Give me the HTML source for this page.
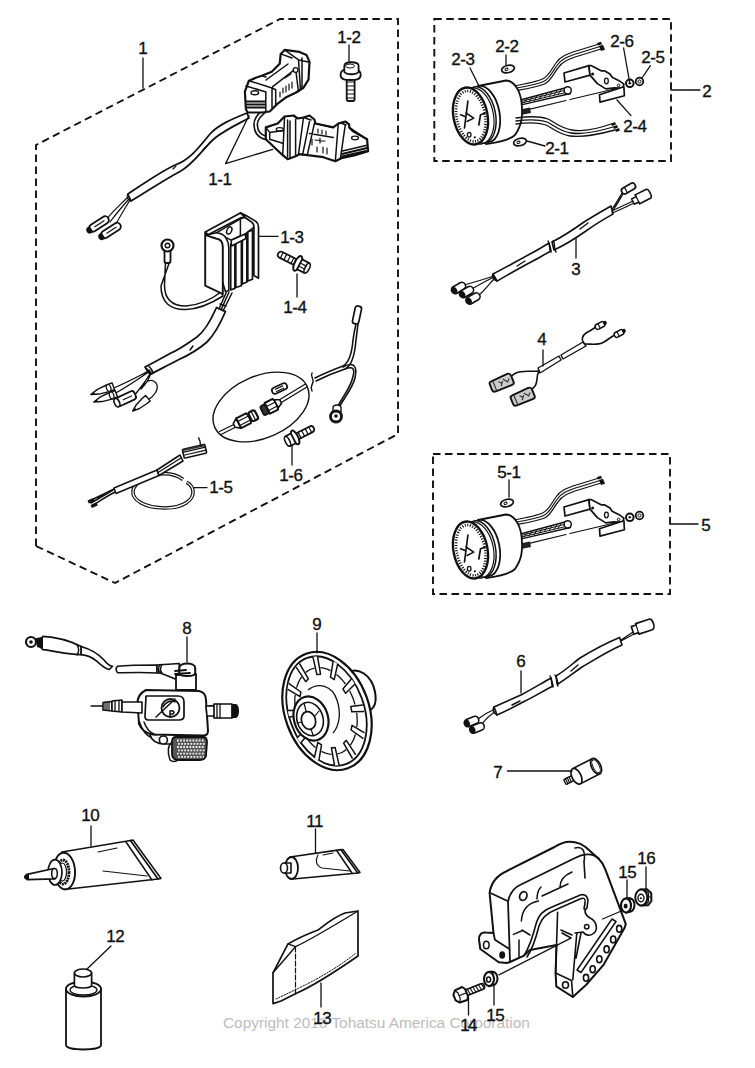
<!DOCTYPE html>
<html><head><meta charset="utf-8"><style>
html,body{margin:0;padding:0;background:#fff;}
svg{display:block;}
text{font-family:"Liberation Sans",sans-serif;}
.lb{font-size:17px;letter-spacing:-0.4px;fill:#111;stroke:#111;stroke-width:0.35px;}
.ln{stroke:#111;stroke-width:1.3;fill:none;stroke-linecap:round;stroke-linejoin:round;}
.d{stroke:#111;stroke-width:1.9;fill:none;stroke-dasharray:7.5 4.5;}
.o{stroke:#111;stroke-width:1.8;fill:#fff;stroke-linejoin:round;stroke-linecap:round;}
.t{stroke:#111;stroke-width:1.2;fill:none;stroke-linecap:round;stroke-linejoin:round;}
</style></head><body>
<svg width="755" height="1068" viewBox="0 0 755 1068">
<rect width="755" height="1068" fill="#fff"/>
<!-- dashed group boxes -->
<path class="d" d="M36,546 L36,145 L280,19 L398,19 L398,434 L115,583 Z"/>
<rect class="d" x="434.3" y="19" width="236.7" height="142"/>
<rect class="d" x="433" y="454" width="237" height="140"/>
<!-- labels -->
<text x="223" y="1028" style="font-size:15.4px;fill:#bdbdbd;">Copyright 2013 Tohatsu America Corporation</text>
<g id="coils">
<!-- cable from upper coil -->
<path class="o" d="M247,113 C232,119 218,125 210,134 C200,146 190,160 175,165 C160,172 140,186 127.7,194.2 L131,201 C145,193 162,181 180,171.5 C195,163 203,148 215,138 C225,130 238,124 249,118 Z"/>
<path class="t" d="M127.7,194.2 C126,197 128,200 131,201 M203,150 L207,146 M173,169 l3,-3"/>
<!-- wires to connectors -->
<path class="t" d="M128,197 C120,205 112,212 106,220 M130,200 C124,210 120,216 115,226 M129,199 C121,208 116,214 110,222"/>
<!-- connectors -->
<g transform="translate(99,224) rotate(-33)"><rect class="o" x="-11" y="-3.8" width="22" height="7.6" rx="3.8"/><path d="M-11,-3.5 a3.5,3.5 0 0 0 0,7 l2,0 l0,-7z" fill="#111"/><path class="t" d="M-5,0 H6"/></g>
<g transform="translate(111,230.5) rotate(-33)"><rect class="o" x="-11" y="-3.8" width="22" height="7.6" rx="3.8"/><path d="M-11,-3.5 a3.5,3.5 0 0 0 0,7 l2,0 l0,-7z" fill="#111"/><path class="t" d="M-5,0 H6"/></g>
<!-- wire loop from upper coil to lower coil -->
<path fill="none" stroke="#111" stroke-width="5" stroke-linecap="round" d="M263.8,111.5 C258,116 255,121 255.8,126 C256,132 259,136 266,138"/>
<path fill="none" stroke="#fff" stroke-width="1.8" d="M263.8,111.5 C258,116 255,121 255.8,126 C256,132 259,136 266,138"/>
<!-- upper coil -->
<g stroke="#111" fill="none" stroke-linejoin="round" stroke-linecap="round">
<path fill="#fff" stroke-width="2.2" d="M245.9,109.5 L244.9,91.7 L248.9,80.7 L255.8,77.8 L261.8,75.8 L271.7,71.8 L279.7,63.8 L280.7,53.9 L284.6,49.9 L299.5,51.9 L306.5,54.9 L309.5,61.9 L308.5,79.7 L303.5,87.7 L295.6,92.7 L285.6,97.6 L277.7,103.6 L272.7,108.5 L269.7,111.5 L261.8,112.5 L247.9,112.5 Z"/>
<path stroke-width="1.5" d="M248.9,80.7 L272,88 L275.7,89.7 M246,86 L266,92 M275.7,89.7 L275.7,105.6 M265.8,91.7 L265.8,111 M272,88 L272,108
M261.8,75.8 L266,77 M272.7,86.7 L295.6,68.8 M266,80 L288,64 M295.6,68.8 L298.5,91.7 M298.5,59.9 L308.5,61.9 M298.5,59.9 L300.5,89.7 M284.6,49.9 L298.5,59.9 M280.7,53.9 L292,58 M302,58 L302,88"/>
<path stroke-width="2" d="M246,101.6 H265 M246,104.6 H265 M246,107.6 H265"/>
<path stroke-width="1.2" d="M283,88 l0,5 M286,86 l0,6 M289,84 l0,6 M292,82 l0,6 M280,92 l0,5 M285,78 l6,-4"/>
<ellipse cx="254.8" cy="92.7" rx="3.8" ry="2" stroke-width="1.4"/>
<circle cx="295.6" cy="70" r="2.4" fill="#fff" stroke-width="1.3"/>
</g>
<!-- lower coil -->
<g stroke="#111" fill="none" stroke-linejoin="round" stroke-linecap="round">
<path fill="#fff" stroke-width="2.2" d="M265.8,127.4 L277.7,123.5 L284.6,116.5 L293.6,115.5 L297.6,118.5 L303.5,117.5 L309.5,115.5 L314.4,119.5 L315.4,123.5 L333.3,127.4 L338.3,123.5 L345.2,121.5 L349.2,124.4 L349.2,127.4 L353.2,131.4 L367.1,139.3 L368.1,151.3 L355.2,155.2 L341.3,158.2 L335.3,161.2 L323.4,157.2 L299.5,154.2 L295.6,156.2 L287.6,159.2 L282.7,155.2 L265.8,139.3 Z"/>
<path stroke-width="1.5" d="M265.8,127.4 L269.7,132.4 L283.6,130.4 M269.7,132.4 L269.7,139.3 L282.7,143.3
M284.6,116.5 L282.7,155.2 M287.6,120 L287.6,157 M290,121 L290,158 M295.6,119.5 L295.6,155.2
M303.5,117.5 L298.5,154.2 M309.5,121.5 L302.5,155.2 M314.4,123.5 L307.5,154.2 M305,118 L311,120
M315.4,123.5 L333.3,127.4 M309.5,133.4 L333.3,137.4 M338.3,123.5 L335.3,161.2 M345.2,125.4 L340.3,159.2 M341,123 L346,125
M349.2,127.4 L367.1,139.3 M341.3,151.3 L367.1,145.3"/>
<path stroke-width="1.8" d="M342,154 L367,148 M342,156.5 L366,151"/>
<path stroke-width="1.2" d="M318,129 l0,4 M322,130 l0,4 M326,131 l0,4 M312,139 l0,6 M315,140 l10,1 M320,138 l0,5 M323,147 l0,6 M327,148 l0,6 M317,147 l0,5"/>
<ellipse cx="279.7" cy="129.4" rx="3.5" ry="1.8" stroke-width="1.3"/>
<ellipse cx="355" cy="138" rx="3.5" ry="1.8" stroke-width="1.3"/>
</g>
<!-- bolt 1-2 -->
<rect class="o" x="346.7" y="77" width="7.9" height="24" rx="2"/>
<path class="t" d="M347,82 H354 M347,86 H354 M347,90 H354 M347,94 H354 M347,98 H354"/>
<path class="o" style="stroke-width:1.8" d="M340.6,75 C340.6,69 346,69 350.5,69 C355,69 360.7,69 360.7,75 C360.7,80 355,80 350.5,80 C346,80 340.6,80 340.6,75 Z"/>
<path class="o" style="stroke-width:1.8" d="M344.3,72 L344.3,66 C344.3,61 358.6,61 358.6,66 L358.6,72 C356,75 347,75 344.3,72 Z"/>
<ellipse cx="350" cy="66" rx="4.5" ry="2" fill="none" stroke="#111" stroke-width="1"/>
</g>
<g id="regulator">
<!-- ground wire -->
<path class="o" style="stroke-width:1.5" d="M165.5,262 L164.5,285 C164.5,300 172,306 186,306 C200,305 212,299 221,292 L223,296 C212,303 200,309 186,309.5 C170,310 161,302 161,286 L169.5,262 Z"/>
<rect class="o" x="164.5" y="249" width="6" height="14" rx="2"/>
<circle cx="167.5" cy="245.5" r="6" fill="#fff" stroke="#111" stroke-width="2.2"/>
<circle cx="167.5" cy="245.5" r="2.3" fill="#fff" stroke="#111" stroke-width="1.4"/>
<!-- main cable -->
<path class="o" d="M216.5,307.5 C211,320 205,331 197,337 C188,343 180,349 171,353 C162,358 153,363 145,367 L150,374.5 C159,370 168,365 178,360 C189,355 199,349 207,342 C215,334 221,322 225.5,311.5 Z"/>
<path class="t" style="stroke-width:1.5" d="M146,368.5 C149,370 150,372 151,374 M149,366.5 C151,368 152,370 153,372.5 M190,350 l3,-4"/>
<path class="t" style="stroke-width:1.5" d="M219,309 L226,293 M221,310 L229,292 M223,311 L232,293 M220,304 l6,2"/>
<!-- regulator body -->
<g stroke="#111" fill="#fff" stroke-linejoin="round" stroke-width="1.7">
<path d="M240.4,212.9 C248,216 252,219 256.2,221.7 C258,223 258.5,225 258.5,227 L258.5,278.2 L253.9,275.5 L253.9,227 C253.9,224 252,222 250,221 L245,217.5 Z"/>
<path d="M252.5,230 L252.5,279.2 L247.8,281 L247.8,232 Z"/>
<path d="M246.9,234 L246.9,282 L242.3,284 L242.3,236 Z"/>
<path d="M241.4,238 L241.4,285.7 L235.8,287.5 L235.8,240 Z"/>
<path d="M234.9,242 L234.9,288.4 L230.7,290 L230.7,244 Z"/>
<path d="M205.2,231.9 L240.4,212.9 L245,217.5 L241.4,217.5 L208,234.7 Z"/>
<path d="M216.3,232.8 L240.4,218.9 L240.4,235.6 L231.2,240.2 Z" stroke-width="1.5"/>
<path d="M231.2,240.2 L245,234 L246,238.5 L231.6,246 Z" stroke-width="1.5"/>
<path d="M208,234.7 L216.3,232.8 C220,233 224,235 226,238 C228,241 228.8,244 228.8,248 L228.8,290.3 L225.6,292 Z" stroke-width="1.6"/>
<path d="M205.2,232.8 L205.2,285.7 L222.8,294 L222.8,247 C222.8,242 220,239 216,238.5 L207,235.6 Z" stroke-width="1.9"/>
</g>
<path class="t" style="stroke-width:1.3" d="M240.4,218.9 L245,217.5 M253.9,227 L245,234"/>
<ellipse cx="229.3" cy="230.5" rx="2.3" ry="3.8" transform="rotate(25 229.3 230.5)" fill="none" stroke="#111" stroke-width="1.5"/>
<!-- connectors of harness -->
<path class="t" style="stroke-width:1.3" d="M150,370 C140,376 125,383 114,388 M150,371 C140,378 125,388 114,394 M151,372 C147,380 140,388 134,396 M151,372 C150,378 148,382 141,389 C146,380 152,378 156,383 C160,389 154,396 148,400"/>
<g transform="translate(103,390) rotate(-20)"><path class="o" style="stroke-width:1.4" d="M-13,0 L-5,-2.5 L5,-3.5 L11,-3.5 L11,3.5 L5,3.5 L-5,2.5 Z"/><path d="M-13,0 L-9,-1.5 L-9,1.5Z" fill="#111"/><ellipse cx="6" cy="0" rx="2.2" ry="3.6" fill="#fff" stroke="#111" stroke-width="1.2"/></g>
<g transform="translate(106,397.5) rotate(-20)"><path class="o" style="stroke-width:1.4" d="M-13,0 L-5,-2.5 L5,-3.5 L11,-3.5 L11,3.5 L5,3.5 L-5,2.5 Z"/><path d="M-13,0 L-9,-1.5 L-9,1.5Z" fill="#111"/><ellipse cx="6" cy="0" rx="2.2" ry="3.6" fill="#fff" stroke="#111" stroke-width="1.2"/></g>
<g transform="translate(126,398.5) rotate(-25)"><rect class="o" x="-10" y="-4.5" width="20" height="9" rx="3"/><ellipse cx="-10" cy="0" rx="2.5" ry="4.5" fill="#fff" stroke="#111" stroke-width="1.6"/><path class="t" d="M-3,0 H6"/></g>
<g transform="translate(141,404) rotate(-40)"><path class="o" style="stroke-width:1.4" d="M-11,0 L-4,-2.5 L5,-3.5 L9,-3.5 L9,3.5 L5,3.5 L-4,2.5 Z"/><path d="M-11,0 L-7,-1.5 L-7,1.5Z" fill="#111"/></g>
</g>
<g id="bolt14">
<!-- bolt 1-4 -->
<g transform="translate(296,262.5) rotate(27)">
<rect class="o" x="-20" y="-3.2" width="20" height="6.4" rx="3"/>
<path class="t" d="M-16,-3 v6 M-12,-3 v6 M-8,-3 v6 M-4,-3 v6"/>
<ellipse class="o" style="stroke-width:2" cx="2" cy="0" rx="3.2" ry="8"/>
<path class="o" style="stroke-width:1.8" d="M4,-5.5 L12,-5.5 C14,-5.5 14,5.5 12,5.5 L4,5.5 Z"/>
<ellipse cx="12.5" cy="0" rx="2.2" ry="5.2" fill="#fff" stroke="#111" stroke-width="1.5"/>
<path class="t" d="M5,-1.5 h6 M5,2 h6"/>
</g>
</g>
<g id="harness16">
<!-- ellipse -->
<ellipse cx="261" cy="407" rx="50.5" ry="31" transform="rotate(-23.5 261 407)" fill="none" stroke="#111" stroke-width="1.4"/>
<!-- wire in ellipse -->
<path class="t" style="stroke-width:1.3" d="M219.5,431.5 L236,423.5 M221,434.5 L237,426.5 M279,400 L305.4,384 M280.5,403 L307,387"/>
<g transform="translate(244,420.5) rotate(-27)">
<path class="o" style="stroke-width:1.6" d="M-11,-2 L-6,-5.5 L-6,5.5 L-11,2 Z"/>
<path class="o" style="stroke-width:2" d="M-6,-5.5 L5,-5.5 L6,-3 L6,3 L5,5.5 L-6,5.5 Z"/>
<path class="t" style="stroke-width:1.2" d="M-6,-2 H5.5 M-6,2.5 H5.5"/>
<rect x="7" y="-5" width="7" height="10" rx="2" fill="#fff" stroke="#111" stroke-width="2.2"/>
<path class="t" d="M10.5,-5 v10"/>
</g>
<g transform="translate(270,407) rotate(-27)">
<rect x="-9" y="-5" width="6" height="10" rx="2" fill="#333" stroke="#111" stroke-width="1.8"/>
<path class="o" style="stroke-width:2" d="M-3,-6 L6,-6 L7,-3 L7,3 L6,6 L-3,6 Z"/>
<path class="t" style="stroke-width:1.2" d="M-3,-2 H6.5 M-3,2.5 H6.5"/>
<path class="o" style="stroke-width:1.6" d="M7,-4.5 L12,-2 L12,2 L7,4.5 Z"/>
</g>
<g transform="translate(279.5,388.5) rotate(-25)"><rect class="o" x="-8" y="-3.2" width="16" height="6.4" rx="3" style="stroke-width:1.7"/><path class="t" d="M-4,-1 H4 M-4,1.5 H4"/></g>
<!-- outside wire -->
<path class="t" style="stroke-width:1.6" d="M315,378 C325,373 335,369 343,366 C350,362 352,352 353,340 C354,333 355,328 356,324 M316,381 C326,376 336,372 345,369 C352,366 355,352 356,340 L358,324"/>
<path class="t" style="stroke-width:1.4" d="M312,373 C310,377 314,378 313,382 C312,386 310,386 312,391"/>
<path class="t" style="stroke-width:1.6" d="M343,367 C352,362 358,364 355,378 C352,390 342,400 338,410 M345,369 C353,366 356,368 352,380 C349,390 339,402 336,410"/>
<rect class="o" x="-3.2" y="-9" width="6.4" height="18" rx="2.5" transform="translate(357,315) rotate(12)" style="stroke-width:1.7"/>
<path class="o" d="M333,408 C333,404 341,404 341,408 L341,412 L333,412 Z" style="stroke-width:1.4"/>
<circle cx="336" cy="416.5" r="5.5" fill="#fff" stroke="#111" stroke-width="2.8"/>
<circle cx="336" cy="416" r="1.8" fill="#111"/>
<!-- bolt 1-6 -->
<g transform="translate(296,437) rotate(-27)">
<rect class="o" x="0" y="-3.2" width="20" height="6.4" rx="3"/>
<path class="t" d="M4,-3 v6 M8,-3 v6 M12,-3 v6 M16,-3 v6"/>
<ellipse class="o" style="stroke-width:2" cx="-1" cy="0" rx="3" ry="7.5"/>
<path class="o" style="stroke-width:1.8" d="M-3,-5.5 L-9,-5.5 C-11,-5.5 -11,5.5 -9,5.5 L-3,5.5 Z"/>
<ellipse cx="-9.5" cy="0" rx="2.2" ry="5.2" fill="#fff" stroke="#111" stroke-width="1.5"/>
</g>
</g>
<g id="wire15">
<path fill="none" stroke="#111" stroke-width="3.6" d="M156,474.5 C147,476 134,483 133,491 C132,500 145,508 165,508 C183,508 194,500 193,491 C192.5,487 190,484 186.6,482.3"/>
<path fill="none" stroke="#fff" stroke-width="1.2" d="M156,474.5 C147,476 134,483 133,491 C132,500 145,508 165,508 C183,508 194,500 193,491 C192.5,487 190,484 186.6,482.3"/>
<path fill="none" stroke="#111" stroke-width="3.6" d="M158,474 C166,473 176,474 183,479.5"/>
<path fill="none" stroke="#fff" stroke-width="1.2" d="M158,474 C166,473 176,474 183,479.5"/>
<path class="o" style="stroke-width:1.4" d="M114,488 L157,470 L159,475.5 L116,493.5 Z"/>
<path class="t" style="stroke-width:1.5" d="M114,489 C106,493 98,497 90,500.5 M115,492 C107,496 100,501 93,505 M113,490 L91,503"/>
<path d="M87.5,500.5 l6,-2.5 l1.3,3 l-6,2.5 Z M90.5,505 l6,-2.5 l1.3,3 l-6,2.5 Z" fill="#111"/>
<path class="o" style="stroke-width:1.6" d="M157,470 L180,455 L183,461 L159,475.5 Z"/>
<path class="t" style="stroke-width:1.3" d="M158,472.5 L181,458"/>
<g transform="translate(194.5,451.2) rotate(-13)"><rect class="o" x="-11.5" y="-4.5" width="23" height="9" rx="1" style="stroke-width:1.6"/><path class="t" d="M-11.5,-1.5 h23 M-11.5,1.5 h23"/><path d="M-11.5,-4.5 h23 v2 h-23z" fill="#333"/></g>
<path class="t" style="stroke-width:1.4" d="M198.7,437.8 C200,440 200.5,442 200.5,446"/>
</g>
<defs>
<g id="gauge">
<!-- upper wire bundle -->
<g fill="none" stroke="#111" stroke-width="1.2">
<path d="M514,86 C525,84 536,82 542.6,79 C549,76 551,70 556,63 C560,57 566,54 578,50.5 L599,44"/>
<path d="M514,88.5 C525,86.5 537,84.5 543.6,81.5 C550,78.5 552,72 557,65.5 C561,59.5 567,56.5 579,53 L600,46.5"/>
<path d="M514,91 C525,89 538,87 544.6,84 C551,81 553,74 558,68 C562,62 568,59 580,55.5 L601,49"/>
</g>
<path d="M597,43 l4,-1.3 l1,2.6 l-4,1.3 Z M599,46 l4,-1.3 l1,2.6 l-4,1.3 Z M600,48.5 l4,-1.3 l1,2.6 l-4,1.3 Z" fill="#111"/>
<!-- threaded stud -->
<path class="o" style="stroke-width:1.4" d="M520.4,100 L564.9,88 L570.5,93.5 L522.3,104.6 Z"/>
<path fill="none" stroke="#111" stroke-width="1" d="M521,101.5 L566,90 M521.5,103 L568,92 M527,99 l-3,4 M532,97.5 l-3,4.5 M537,96 l-3,5 M542,95 l-3,4.5 M547,93.5 l-3,4.5 M552,92 l-3,4.5 M557,91 l-3,4 M561,90 l-3,4"/>
<circle cx="567.7" cy="90.3" r="3.6" fill="#fff" stroke="#111" stroke-width="1.5"/>
<!-- thin rod -->
<path class="t" style="stroke-width:1.2" d="M526,110.2 L566,100.5 M570,99.5 L618.7,88"/>
<path d="M520,109.5 L530,107.5 L531,113 L521,115 Z" fill="#222"/>
<!-- bracket -->
<path class="o" style="stroke-width:1.7" d="M564,73 L588.9,65.6 L590,75.1 L565,82 Z"/>
<path class="o" style="stroke-width:1.7" d="M588.9,65.6 L591,65.6 L601.6,70.9 L604.8,70.9 L610,74 L612.2,77.2 L618.6,80.4 L623.9,84.1 L622.8,88.4 L614.3,87.8 L605.8,88.9 L597.4,83.6 L590,75.1 Z"/>
<circle cx="592.6" cy="74.1" r="1.5" fill="#111"/>
<ellipse cx="606.4" cy="81" rx="1.9" ry="2.8" fill="none" stroke="#111" stroke-width="1.3"/>
<circle cx="618.6" cy="85.5" r="1.3" fill="none" stroke="#111" stroke-width="1"/>
<path class="o" style="stroke-width:1.7" d="M599.5,94.7 L623.9,86.8 L624.4,95.8 L600,102.1 Z"/>
<circle cx="629.8" cy="83.3" r="3.8" fill="#fff" stroke="#111" stroke-width="2"/>
<circle cx="629.8" cy="83.3" r="1.3" fill="#111"/>
<circle cx="639.5" cy="81.5" r="3.8" fill="#fff" stroke="#111" stroke-width="1.8"/>
<circle cx="639.5" cy="81.5" r="1.6" fill="none" stroke="#111" stroke-width="1"/>
<!-- body -->
<path class="o" style="stroke-width:1.8" d="M478,86 L506,80.5 C514,81 520,90 521.5,102 C523,116 522,125 515,135 C510,140 500,142 486,144 Z"/>
<!-- bezel rings -->
<ellipse cx="484" cy="114" rx="15.5" ry="28.5" transform="rotate(-11 484 114)" fill="#fff" stroke="#111" stroke-width="1.8"/>
<ellipse cx="479.5" cy="115" rx="16" ry="28.5" transform="rotate(-11 479.5 115)" fill="#fff" stroke="#111" stroke-width="1.5"/>
<ellipse cx="476.5" cy="116" rx="17" ry="28.5" transform="rotate(-11 476.5 116)" fill="none" stroke="#111" stroke-width="1.2"/>
<!-- face -->
<ellipse cx="470.5" cy="116" rx="17" ry="28.8" transform="rotate(-11 470.5 116)" fill="#fff" stroke="#111" stroke-width="2.4"/>
<ellipse cx="470.8" cy="116.2" rx="14.2" ry="25.5" transform="rotate(-11 470.8 116.2)" fill="none" stroke="#111" stroke-width="2.6" stroke-dasharray="1.1 1.5"/>
<path class="t" style="stroke-width:1.7" d="M467.9,101 L464.5,128 M460.6,114.8 L465,116.5 M484.4,113.5 L480.5,114.8 L478.8,125"/>
<path class="t" style="stroke-width:1.5" d="M466,113 L473.8,118.1 L467,121.5"/>
<ellipse cx="469.2" cy="134.7" rx="1.8" ry="2.4" fill="none" stroke="#111" stroke-width="1.3"/>
<circle cx="474.8" cy="137.3" r="1.1" fill="#111"/>
</g>
</defs>
<use href="#gauge"/>
<use href="#gauge" transform="translate(0,434)"/>
<!-- gauge 2 lower bundle -->
<path class="t" style="stroke-width:1.3" d="M516,118 C530,116 542,117 548,119 C556,123 560,128 572,130 C585,132 600,128 611,124
M516,121 C530,119 541,120 547,122 C555,126 559,131 571,133 C584,135 600,131 613,127
M516,124 C530,122 540,123 546,125 C554,129 558,134 570,136 C583,138 600,134 615,130"/>
<path d="M611,123.5 l4,-1.5 l1,2.5 l-4,1.5 Z M613,126.5 l4,-1.5 l1,2.5 l-4,1.5 Z M615,129.5 l4,-1.5 l1,2.5 l-4,1.5 Z" fill="#111"/>
<!-- grommets -->
<g transform="translate(508,69) rotate(-15)"><ellipse cx="0" cy="0" rx="6.5" ry="3.6" fill="#fff" stroke="#111" stroke-width="1.7"/><ellipse cx="-1.5" cy="0" rx="1.5" ry="1.2" fill="none" stroke="#111" stroke-width="1"/></g>
<g transform="translate(520,142) rotate(-15)"><ellipse cx="0" cy="0" rx="6.5" ry="3.6" fill="#fff" stroke="#111" stroke-width="1.7"/><ellipse cx="-1.5" cy="0" rx="1.5" ry="1.2" fill="none" stroke="#111" stroke-width="1"/></g>
<g transform="translate(507,503) rotate(-15)"><ellipse cx="0" cy="0" rx="6.5" ry="3.6" fill="#fff" stroke="#111" stroke-width="1.7"/><ellipse cx="-1.5" cy="0" rx="1.5" ry="1.2" fill="none" stroke="#111" stroke-width="1"/></g>
<g id="cable3">
<path class="o" style="stroke-width:1.6" d="M493,274 C505,268 515,262 530,254 C538,250 544,246 549,243 L551,251 C545,254 539,258 531,262 C516,270 506,276 497,281 Z"/>
<path class="o" style="stroke-width:1.6" d="M552,242 C560,238 570,232 584,222 C595,215 604,210 611,206 L613,214 C606,218 597,223 586,231 C573,240 563,246 554,250 Z"/>
<path class="t" style="stroke-width:1.4" d="M548,241 C551,244 548,248 551,252 M553,241 C556,244 553,248 556,252 M493,274 C491,277 494,280 497,281 M517,266 l8,-5 M580,229 l8,-6"/>
<path class="t" style="stroke-width:1.2" d="M494,276 C485,279 475,282 464,285 M494,277 C486,281 480,284 472,289 M495,278 C489,284 485,290 479,295 M612,209 C616,204 619,198 622,193 M613,210 C617,205 620,199 623,194 M612,211 C620,207 627,204 633,201 M612,213 C620,210 628,206 634,203"/>
<g transform="translate(458.5,288) rotate(-30)"><rect class="o" x="-7.5" y="-3.7" width="15" height="7.4" rx="3.5" style="stroke-width:1.6"/><ellipse cx="-4.8" cy="0" rx="2.8" ry="3.5" fill="#111"/></g>
<g transform="translate(466.5,292) rotate(-30)"><rect class="o" x="-7.5" y="-3.7" width="15" height="7.4" rx="3.5" style="stroke-width:1.6"/><ellipse cx="-4.8" cy="0" rx="2.8" ry="3.5" fill="#111"/></g>
<g transform="translate(473,298.5) rotate(-30)"><rect class="o" x="-7.5" y="-3.7" width="15" height="7.4" rx="3.5" style="stroke-width:1.6"/><ellipse cx="-4.8" cy="0" rx="2.8" ry="3.5" fill="#111"/></g>
<g transform="translate(628.5,188.5) rotate(-30)"><rect class="o" x="-7.5" y="-3.2" width="15" height="6.4" rx="3" style="stroke-width:1.7"/><path class="t" d="M-3,-3v6.4"/></g>
<g transform="translate(641,197.5) rotate(-27)"><path class="o" style="stroke-width:1.6" d="M-9,-3 L-4,-3 L-4,-5 L8,-5 C11,-5 11,5 8,5 L-4,5 L-4,3 L-9,3 Z"/><path class="t" d="M-4,-5 v10"/></g>
</g>
<g id="cable4">
<path class="o" style="stroke-width:1.4" d="M538,368 L559,356 L561,360 L540,373 Z M561,355 L583,342 L586,346 L563,359 Z"/>
<path class="t" style="stroke-width:1.6" d="M539,371 C530,372 522,370 516,373 C512,375 511,377 509,377 M539,371 C536,376 538,382 535,386 C533,389 531,389 530,390 M585,344 C580,340 583,335 586,333 C590,331 593,329 596,327 M585,344 C592,344 598,345 602,343 C607,341 610,337 615,335"/>
<g transform="translate(502,382.5) rotate(-22)"><path d="M-10,-5 L8,-6 C10,-6 11,-5 11,-3 L11,4 C11,5 10,6 8,6 L-9,6 C-11,6 -12,5 -12,3 L-12,-3 C-12,-4 -11,-5 -10,-5 Z" fill="#ccc" stroke="#111" stroke-width="1.9"/><path fill="none" stroke="#333" stroke-width="1.2" d="M-8,-4 L-8,5 M-3,-2 l3,3 M2,-3 l3,4 M-2,3 l3,-4 M5,2 l3,-3"/></g>
<g transform="translate(523,396.5) rotate(-22)"><path d="M-10,-5 L8,-6 C10,-6 11,-5 11,-3 L11,4 C11,5 10,6 8,6 L-9,6 C-11,6 -12,5 -12,3 L-12,-3 C-12,-4 -11,-5 -10,-5 Z" fill="#ccc" stroke="#111" stroke-width="1.9"/><path fill="none" stroke="#333" stroke-width="1.2" d="M-8,-4 L-8,5 M-3,-2 l3,3 M2,-3 l3,4 M-2,3 l3,-4 M5,2 l3,-3"/></g>
<g transform="translate(600,325.5) rotate(-28)"><rect class="o" x="-5" y="-2.6" width="10" height="5.2" rx="2.2" style="stroke-width:1.5"/><circle cx="5.5" cy="0" r="2" fill="#111"/><path class="t" d="M-1,-2.6v5.2"/></g>
<g transform="translate(619,333.5) rotate(-28)"><rect class="o" x="-5" y="-2.6" width="10" height="5.2" rx="2.2" style="stroke-width:1.5"/><circle cx="5.5" cy="0" r="2" fill="#111"/><path class="t" d="M-1,-2.6v5.2"/></g>
</g>
<g id="cable6">
<path class="o" style="stroke-width:1.6" d="M494,707 C505,702 512,699 521,695 C532,689 542,683 551,678 L553,686 C543,691 534,697 525,701 C514,707 506,711 497,715 Z"/>
<path class="o" style="stroke-width:1.6" d="M556,676 C566,670 572,664 580,658 C593,650 606,643 619.6,637.4 L622,645 C608,651 594,660 582,667 C572,674 566,679 558,684 Z"/>
<path class="t" style="stroke-width:1.4" d="M550,676 C553,679 550,683 553,687 M555,675 C558,678 555,682 558,686 M494,707 C492,710 494,714 497,715 M512,705 l8,-4 M571,671 l7,-6"/>
<path class="t" style="stroke-width:1.2" d="M495,709 C488,712 482,716 478,719 M496,711 C490,715 485,720 482,724 M621,640 L633,632 M621,641 L634,634"/>
<g transform="translate(471.5,721.5) rotate(-22)"><rect class="o" x="-7.5" y="-3.7" width="15" height="7.4" rx="3.5" style="stroke-width:1.6"/><ellipse cx="-4.8" cy="0" rx="2.8" ry="3.5" fill="#111"/></g>
<g transform="translate(477,728) rotate(-22)"><rect class="o" x="-7.5" y="-3.7" width="15" height="7.4" rx="3.5" style="stroke-width:1.6"/><ellipse cx="-4.8" cy="0" rx="2.8" ry="3.5" fill="#111"/></g>
<g transform="translate(643,627) rotate(-18)"><path class="o" style="stroke-width:1.7" d="M-11,-4 L-6,-4 L-6,-5.5 L8,-5.5 C12,-5.5 12,5.5 8,5.5 L-6,5.5 L-6,4 L-11,4 Z"/><path class="t" d="M-6,-5.5 v11"/></g>
</g>
<g id="item7">
<g transform="translate(572,778.5) rotate(-27)">
<rect class="o" x="-8" y="-2.8" width="9" height="5.6" rx="1" style="stroke-width:1.4"/>
<path class="t" d="M-6,-2.6 v5.2 M-4,-2.6 v5.2 M-2,-2.6v5.2"/>
<path class="o" style="stroke-width:1.7" d="M5,-8.5 L27,-8.5 L27,8.5 L5,8.5 Z"/>
<ellipse cx="5" cy="0" rx="4.5" ry="8.5" fill="#fff" stroke="#111" stroke-width="1.7"/>
<ellipse cx="27" cy="0" rx="4.5" ry="8.5" fill="#fff" stroke="#111" stroke-width="1.7"/>
<ellipse cx="27" cy="0" rx="3" ry="7" fill="none" stroke="#111" stroke-width="1"/>
</g>
<path class="ln" d="M507.4,771 H572"/>
</g>
<g id="item8">
<!-- left connector & hose -->
<path class="o" style="stroke-width:1.7" d="M43,636.4 C55,637 70,641 81.2,646.4 L81.2,654.6 C70,655 55,651 43,649.7 C39,647 39,639 43,636.4 Z"/>
<path class="t" style="stroke-width:1.4" d="M77,645 C79,648 79,652 77,655 M81.2,646.4 C82,649 82,652 81.2,654.6"/>
<circle cx="31" cy="642" r="5" fill="#fff" stroke="#111" stroke-width="2.2"/>
<circle cx="31" cy="642" r="1.8" fill="#111"/>
<path d="M36,638 L43,637 L43,649 L37,647 Z" fill="#111"/>
<path class="o" style="stroke-width:1.6" d="M81.2,646.4 C90,649 98,653 104,660 C107,664 110,666 112.6,666.2 L109.3,669.5 C106,669 102,666 97,661.3 C92,657 87,655 81.2,654.6 Z"/>
<path class="o" style="stroke-width:1.6" d="M117.6,666.2 C130,665 145,665 157,665 L157,673 C145,672 130,672.5 117.6,672.8 C115.5,670 115.5,668 117.6,666.2 Z"/>
<!-- elbow fitting -->
<path class="o" style="stroke-width:1.7" d="M157,665 L179.3,663.5 L179.3,676 L177.7,680 L168,676 L160,673 L157,673 Z"/>
<path class="t" style="stroke-width:1.5" d="M160,664.5 C158,668 158,671 160,673 M162,664.5 C160,668 160,671 162,673"/>
<path class="o" style="stroke-width:1.8" d="M176,675 L196,674 L196,690 L176,690 Z"/>
<path class="o" style="stroke-width:2" d="M179.3,668 C179.3,662 195.2,662 195.2,668 L195.2,673 C195.2,677 179.3,677 179.3,673 Z"/>
<path class="t" style="stroke-width:1.8" d="M175,671 L186,670 M175,674 L190,673"/>
<!-- body -->
<path class="o" style="stroke-width:2" d="M146,690 L199,691 C204,692 206,695 206,700 L208,731 C208,734 206,735.5 203,735.5 L152,734.5 C146,733 141,729 139,724 L137.5,703 C137.5,697 140,693 146,690 Z"/>
<path class="o" style="stroke-width:1.7" d="M146,696 L178,696 C182,696 184,698 184,702 L184,716 C184,719 182,720 179,720 L148,720 C146,720 145,718 145,716 Z"/>
<circle cx="170.5" cy="708" r="9" fill="#fff" stroke="#111" stroke-width="1.8"/>
<path class="t" style="stroke-width:1.5" d="M156,717 L175,699 M163,707 C166,701 172,700 175,702 M170,711 L170,717 M170,711 C173,710 175,712 173,714 L170,714"/>
<path class="t" style="stroke-width:1.5" d="M139.5,722 C142,730 147,736 152,738 L162,739 M144,722 C146,728 150,733 156,735"/>
<!-- left spigot -->
<path class="ln" d="M91,706 L103,706"/>
<path class="o" style="stroke-width:1.6" d="M103,702.5 L112,701.5 L112,711 L103,710 Z"/>
<path class="t" d="M105,702 v8 M107,702 v8 M109,702 v8"/>
<path class="o" style="stroke-width:1.6" d="M112,701 L122,700 L122,712 L112,711 Z"/>
<path class="o" style="stroke-width:1.6" d="M122,702 L142,702 L142,713 L122,712 Z"/>
<path class="t" style="stroke-width:1.3" d="M115,700.5 v11 M119,700.5 v11"/>
<!-- right spigot -->
<path class="o" style="stroke-width:1.6" d="M206,706 L215,705.6 L215,716 L207,716 Z"/>
<path class="o" style="stroke-width:1.7" d="M214,704 L232,704 L232,718 L214,718 Z"/>
<path d="M231.7,704 L236,704 C240,705 240,717 236,718 L231.7,718 Z" fill="#111"/>
<path class="t" style="stroke-width:1.3" d="M217,704 v14 M220,704 v14"/>
<!-- bottom bulb -->
<path class="o" style="stroke-width:1.7" d="M150,735 C152,742 158,744 165,744 L173,744"/>
<circle cx="163.4" cy="740" r="4" fill="#fff" stroke="#111" stroke-width="1.6"/>
<path d="M176,737 L203,737 C206,737 207,739 207,742 L206,756 C205,759 203,760 200,760 L178,760 C174,760 172,757 172,754 L172,742 C172,739 173,737 176,737 Z" fill="#555" stroke="#111" stroke-width="1.8"/>
<path stroke="#eee" stroke-width="1.8" stroke-dasharray="1.8 1.3" d="M177,740.5 H205 M178,743.8 H205 M177,747 H205 M178,750.3 H205 M177,753.6 H205 M178,756.8 H204"/>
<path class="t" style="stroke-width:1.5" d="M172,742 C168,745 167,752 170,760 C172,762 176,762 178,760"/>
</g>
<g id="item9">
<!-- rear hub -->
<path class="o" style="stroke-width:2" d="M346,673 C358,666 372,675 375,692 C377,703 374,709 368,711"/>
<!-- outer disc -->
<ellipse cx="327" cy="711" rx="42" ry="61" transform="rotate(-20 327 711)" fill="#fff" stroke="#111" stroke-width="2.2"/>
<ellipse cx="326.5" cy="711" rx="37.5" ry="56.5" transform="rotate(-20 326.5 711)" fill="none" stroke="#111" stroke-width="1.8"/>
<path fill="#fff" stroke="#111" stroke-width="1.5" stroke-linejoin="round" d="M362.9,705.0 L350.8,706.5 L351.8,711.8 L364.2,711.5 M364.5,732.9 L352.0,725.3 L351.1,730.0 L363.4,738.7 M355.8,754.9 L346.3,740.3 L343.6,743.2 L352.5,758.5 M339.1,765.2 L335.1,747.4 L331.4,747.7 L334.5,765.5 M318.8,760.9 L321.5,744.8 L317.8,742.4 L314.3,758.0 M300.5,743.3 L309.1,733.1 L306.4,728.7 L297.2,737.8 M289.1,717.0 L301.2,715.5 L300.2,710.2 L287.8,710.5 M287.5,689.1 L300.0,696.7 L300.9,692.0 L288.6,683.3 M296.2,667.1 L305.7,681.7 L308.4,678.8 L299.5,663.5 M312.9,656.8 L316.9,674.6 L320.6,674.3 L317.5,656.5 M333.2,661.1 L330.5,677.2 L334.2,679.6 L337.7,664.0 M351.5,678.7 L342.9,688.9 L345.6,693.3 L354.8,684.2"/>
<path fill="none" stroke="#111" stroke-width="1.3" d="M356.7,712.9 L356.9,715.3 L357.1,717.7 L357.2,720.1 L357.2,722.4 L357.1,724.7 L356.8,727.0 M355.4,734.4 L354.8,736.3 L354.1,738.3 L353.3,740.1 L352.4,741.8 L351.5,743.5 L350.4,745.0 M346.3,749.5 L344.9,750.6 L343.5,751.5 L342.1,752.3 L340.6,753.0 L339.0,753.5 L337.5,753.9 M331.7,754.3 L330.0,754.2 L328.3,753.9 L326.6,753.4 L324.8,752.9 L323.1,752.2 L321.4,751.4 M315.6,747.6 L314.0,746.2 L312.4,744.8 L310.9,743.2 L309.4,741.6 L308.0,739.8 L306.6,738.0 M302.3,731.0 L301.2,728.8 L300.2,726.6 L299.3,724.4 L298.4,722.1 L297.7,719.7 L297.0,717.4 M295.3,709.1 L295.1,706.7 L294.9,704.3 L294.8,701.9 L294.8,699.6 L294.9,697.3 L295.2,695.0 M296.6,687.6 L297.2,685.7 L297.9,683.7 L298.7,681.9 L299.6,680.2 L300.5,678.5 L301.6,677.0 M305.7,672.5 L307.1,671.4 L308.5,670.5 L309.9,669.7 L311.4,669.0 L313.0,668.5 L314.5,668.1 M320.3,667.7 L322.0,667.8 L323.7,668.1 L325.4,668.6 L327.2,669.1 L328.9,669.8 L330.6,670.6 M336.4,674.4 L338.0,675.8 L339.6,677.2 L341.1,678.8 L342.6,680.4 L344.0,682.2 L345.4,684.0 M349.7,691.0 L350.8,693.2 L351.8,695.4 L352.7,697.6 L353.6,699.9 L354.3,702.3 L355.0,704.6"/>
<path fill="none" stroke="#111" stroke-width="1.3" d="M308,690 C318,682 332,685 337,700 C341,712 340,725 333,733"/>
<!-- front hub -->
<ellipse cx="311" cy="718.5" rx="17" ry="22.5" transform="rotate(-17 311 718.5)" fill="#fff" stroke="#111" stroke-width="2.2"/>
<ellipse cx="310" cy="719" rx="13" ry="17" transform="rotate(-17 310 719)" fill="none" stroke="#111" stroke-width="1.6"/>
<ellipse cx="308.5" cy="720.5" rx="7" ry="9" transform="rotate(-17 308.5 720.5)" fill="#fff" stroke="#111" stroke-width="1.7"/>
<path class="t" d="M304,703 L306,711 M319,711 L315,716 M313,735 L311,729 M297,723 L302,722"/>
</g>
<g id="item10">
<path class="o" style="stroke-width:1.7" d="M62,852 L130.5,840.5 L158,879 L64,889.5 Z"/>
<path class="t" style="stroke-width:1.5" d="M130.5,840.5 L133,840 L161,878.5 L158,879 M126,842 L152,880"/>
<path class="t" style="stroke-width:1.2" d="M98,852 L117,848 M103,871 L147,876"/>
<ellipse cx="64.5" cy="871" rx="10.5" ry="18.3" transform="rotate(-4 64.5 871)" fill="#fff" stroke="#111" stroke-width="1.9"/>
<ellipse cx="63" cy="872" rx="6" ry="12" fill="#fff" stroke="#111" stroke-width="2.8" stroke-dasharray="2 0.7"/>
<ellipse cx="62.5" cy="872" rx="4" ry="9" fill="#fff" stroke="#111" stroke-width="1.2"/>
<ellipse cx="55" cy="872.3" rx="7" ry="12.7" fill="#fff" stroke="#111" stroke-width="1.7"/>
<path class="o" style="stroke-width:1.7" d="M27,874.3 L53.9,868.5 L55,878.8 L27,879.6 Z"/>
<path d="M24,877 C24,874.5 26,874 29,874 L29,879.6 C26,880 24,879.5 24,877 Z" fill="#111"/>
<ellipse cx="54.5" cy="873.6" rx="2.8" ry="5" fill="#fff" stroke="#111" stroke-width="1.5"/>
</g>
<g id="item11">
<path class="o" style="stroke-width:1.7" d="M290,857 L341,849.7 L357.8,873 L293,879 Z"/>
<path class="t" style="stroke-width:1.5" d="M341,849.7 L343,849.5 L360,872.5 L357.8,873 M337,851 L352,873"/>
<path class="t" style="stroke-width:1.2" d="M318,855 C315,860 316,866 322,868 L350,871 M323,855 L333,853"/>
<ellipse cx="291.5" cy="868" rx="6.5" ry="11" fill="#fff" stroke="#111" stroke-width="1.8"/>
<path class="o" style="stroke-width:1.6" d="M284,863 L291,863 L291,873 L284,873 Z"/>
<ellipse cx="284" cy="868" rx="3.5" ry="5" fill="#fff" stroke="#111" stroke-width="1.6"/>
</g>
<g id="item12">
<path class="o" style="stroke-width:1.8" d="M66,989 L101,989 L101,1045 C101,1051 66,1051 66,1045 Z"/>
<ellipse cx="83.5" cy="989" rx="17.5" ry="7.5" fill="#fff" stroke="#111" stroke-width="1.8"/>
<ellipse cx="83.5" cy="990" rx="13.5" ry="5" fill="#fff" stroke="#111" stroke-width="1.3"/>
<path class="o" style="stroke-width:1.7" d="M74.4,973 L91.6,973 L91.6,985 C91.6,989 74.4,989 74.4,985 Z"/>
<ellipse cx="83" cy="973" rx="8.6" ry="4" fill="#fff" stroke="#111" stroke-width="1.7"/>
</g>
<g id="item13">
<path class="o" style="stroke-width:1.7" d="M273,1003.6 L273,972.8 L288,943.9 C300,937 310,933 318,930 C326,924 334,917 345,913 L358,911 L358,956 C345,965 315,985 297,993 L281,1001 Z"/>
<path class="t" style="stroke-width:1.4" d="M288,943.9 L295.5,946.7 C310,940 330,928 358,911 M273,972.8 L295.5,946.7"/>
<path class="t" style="stroke-width:1.2;stroke-dasharray:5 2" d="M295.5,947 L295.5,995"/>
<path class="t" style="stroke-width:1;stroke-dasharray:1.5 1.5" d="M276,999 L297,989 C320,978 340,966 356,953"/>
</g>
<g id="bracket">
<path class="o" style="stroke-width:2" d="M479,939.7 C479,934 482,932 485.6,932.5 L493.5,933 L489.6,893 C491,882 498,875 507,871 L554.5,847 C562,842 570,841 575,842.3 C580,843 583,845 585.5,847 L598.7,858.8 C602,862 604,866 605.3,869.4 L613.3,890.6 L625.8,924.1 L624.5,928 L603.3,965.2 L586,985 L572.8,997 L556.3,986.4 L555.6,973 L556.5,945 L530,950 L524,955.6 L510,962 L506.8,963 L498.8,962.3 L480.3,949 Z"/>
<path class="t" style="stroke-width:1.8" d="M491,893.3 L508,901.2 M508,901.2 C510,893 513,888 520,885 L575,858 C582,854 592,852 599,859 M508,901.2 L510,962 M493.5,933 L494.9,939.7 L509.4,949"/>
<ellipse cx="523.3" cy="896" rx="3.5" ry="4.5" transform="rotate(20 523.3 896)" fill="#fff" stroke="#111" stroke-width="1.8"/>
<ellipse cx="486.3" cy="945" rx="2.8" ry="3.8" fill="#fff" stroke="#111" stroke-width="1.5"/>
<ellipse cx="502.2" cy="955" rx="3" ry="3.8" fill="#111"/>
<path class="t" style="stroke-width:1.5" d="M521.4,921 C522,910 528,903 538.6,901 M513.4,934.4 L522.7,930.5 M537,899 C537,893 538,890 541,887 M542,896 L568,884 M560,887 C560,880 565,875 572,872 M519,940 L519,958 M522,930 L530,935"/>
<path class="t" style="stroke-width:1.6" d="M524,955.6 C530,946 534,932 536,924 C539,914 544,910 552,907 L578,896 C583,893 587,895 588,900 L587,908 C584,910 584,914 590,918 C597,921 598,930 594,933 C590,937 585,935 583,932 L575,933
M527,957 C533,948 537,934 539,926 C542,917 547,913 555,910 L580,899 C584,897 586,899 585,903 L584,909"/>
<path class="t" style="stroke-width:1.6" d="M575,848 C582,846 586,850 584,862 L585,878 M557.6,912.2 L555.6,973 L571.5,980.4 L572.8,997 M576.8,933.4 L572.8,979.8 M562,933 L571,938 M561,930 L572,935 M581,933 L576,958"/>
<circle cx="586.7" cy="926.8" r="2.2" fill="#fff" stroke="#111" stroke-width="1.5"/>
<ellipse cx="565.5" cy="985" rx="3" ry="3.3" fill="#fff" stroke="#111" stroke-width="1.6"/>
<path class="o" style="stroke-width:1.5" d="M577,970 L612,919 L616,921.5 L581,972.5 Z"/>
<g fill="#fff" stroke="#111" stroke-width="1.6">
<ellipse cx="619.2" cy="928.8" rx="2.6" ry="3.4"/><ellipse cx="613.2" cy="939.4" rx="2.6" ry="3.4"/><ellipse cx="606.6" cy="949.3" rx="2.6" ry="3.4"/><ellipse cx="599.3" cy="959.2" rx="2.6" ry="3.4"/><ellipse cx="592.7" cy="969.2" rx="2.6" ry="3.4"/><ellipse cx="586" cy="977.8" rx="2.6" ry="3.4"/>
</g>
<path class="ln" d="M499,974.8 L570.4,938.4 M602.7,919 L622.5,910.5"/>
</g>
<g id="hardware">
<!-- washer 15 upper -->
<ellipse cx="629.5" cy="905" rx="5" ry="6.8" fill="#fff" stroke="#111" stroke-width="2"/>
<path fill="#fff" stroke="#111" stroke-width="2" d="M626,898.2 L629.5,898.2 L629.5,911.8 L626,912.8 Z" stroke-linejoin="round"/>
<ellipse cx="626" cy="905.5" rx="5" ry="7" fill="#fff" stroke="#111" stroke-width="2.1"/>
<ellipse cx="625.6" cy="906" rx="2" ry="2.6" fill="#111"/>
<!-- nut 16 -->
<path fill="#fff" stroke="#111" stroke-width="2" stroke-linejoin="round" d="M640,889.5 L647,889.3 L651.2,893 L651.4,901 L648,905.3 L641,905.5 Z"/>
<path fill="none" stroke="#111" stroke-width="1.2" d="M645,890 L648.5,893 L648.5,901.5 L645.5,905 M651,897 L648.5,897"/>
<ellipse cx="641.3" cy="897.5" rx="6" ry="8" fill="#fff" stroke="#111" stroke-width="2"/>
<ellipse cx="641" cy="898" rx="3" ry="3.8" fill="none" stroke="#111" stroke-width="1.4"/>
<circle cx="640.8" cy="898.2" r="1" fill="#111"/>
<!-- washer 15 lower -->
<ellipse cx="492.5" cy="978.5" rx="5" ry="6.8" fill="#fff" stroke="#111" stroke-width="2"/>
<path fill="#fff" stroke="#111" stroke-width="2" d="M489,971.7 L492.5,971.7 L492.5,985.3 L489,986.3 Z" stroke-linejoin="round"/>
<ellipse cx="489" cy="979" rx="5" ry="7" fill="#fff" stroke="#111" stroke-width="2.1"/>
<ellipse cx="488.6" cy="979.5" rx="2" ry="2.6" fill="#fff" stroke="#111" stroke-width="1.5"/>
<!-- bolt 14 -->
<g transform="translate(461,995) rotate(-22)">
<rect class="o" x="4" y="-3" width="21" height="6" rx="2.5" style="stroke-width:1.6"/>
<path class="t" style="stroke-width:1.1" d="M8,-3 l1,6 M11,-3 l1,6 M14,-3 l1,6 M17,-3 l1,6 M20,-3 l1,6 M23,-3 l1,6"/>
<path fill="#fff" stroke="#111" stroke-width="2" stroke-linejoin="round" d="M-4,-6.5 L4,-7 L6,-4 L6,4 L4,7 L-4,6.5 L-7,3 L-7,-3 Z"/>
<path fill="none" stroke="#111" stroke-width="1.2" d="M-4,-6.5 L-2,-3 L-2,3 L-4,6.5 M-2,0 H5"/>
</g>
</g>

<g id="labels" transform="translate(-0.7,1)">
<text class="lb" x="139" y="53">1</text>
<text class="lb" x="338" y="42">1-2</text>
<text class="lb" x="209" y="184">1-1</text>
<text class="lb" x="281" y="242">1-3</text>
<text class="lb" x="284" y="312">1-4</text>
<text class="lb" x="210" y="492">1-5</text>
<text class="lb" x="280" y="480">1-6</text>
<text class="lb" x="703" y="96">2</text>
<text class="lb" x="496" y="51">2-2</text>
<text class="lb" x="452" y="64">2-3</text>
<text class="lb" x="546" y="153">2-1</text>
<text class="lb" x="611" y="46">2-6</text>
<text class="lb" x="642" y="62">2-5</text>
<text class="lb" x="624" y="131">2-4</text>
<text class="lb" x="572" y="274">3</text>
<text class="lb" x="538" y="344">4</text>
<text class="lb" x="702" y="530">5</text>
<text class="lb" x="498" y="477">5-1</text>
<text class="lb" x="517" y="666">6</text>
<text class="lb" x="494" y="777">7</text>
<text class="lb" x="183" y="633">8</text>
<text class="lb" x="313" y="629">9</text>
<text class="lb" x="82" y="820">10</text>
<text class="lb" x="307" y="826">11</text>
<text class="lb" x="107" y="941">12</text>
<text class="lb" x="314" y="1023">13</text>
<text class="lb" x="461" y="1030" style="letter-spacing:-2px">14</text>
<text class="lb" x="487" y="1020">15</text>
<text class="lb" x="619" y="877">15</text>
<text class="lb" x="638" y="863">16</text>
</g>
<!-- leaders -->
<path class="ln" d="M143,58V88 M349,45V62 M225.6,163.6L249,115.5 M225.6,163.6L272.7,149.3 M259,236.4H278 M297,274V297 M194,487.6H207 M292,445V465
M671,90H700 M506,55V65 M470,68L479,86 M527,141L545,146 M623.6,48L629.6,82 M650.4,65.6L642,78 M617,100L631,115.6
M576,238V258 M543,350V366 M509,480V497 M670,524H698
M521,671V693 M187,637V662 M317,633V653 M91,826V846 M315.5,829V853 M111,946L87,969 M321,983V1007 M494,985V1005 M468.5,998V1015 M627,880V897 M646,867V890"/>
</svg>
</body></html>
